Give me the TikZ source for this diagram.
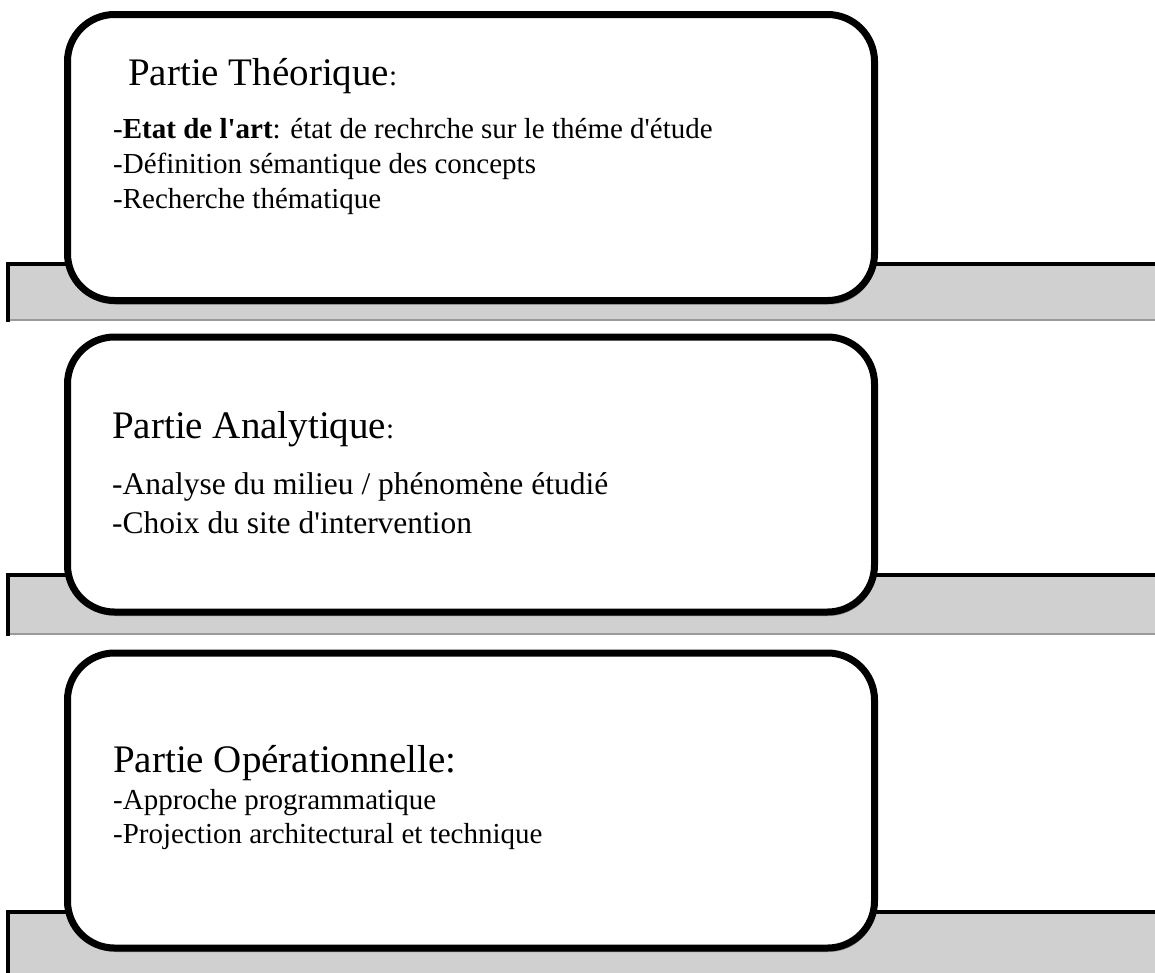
\documentclass[tikz,border=0pt]{standalone}
\usepackage{fontspec}
\setmainfont{Liberation Serif}
\usetikzlibrary{shadows}
\definecolor{bargray}{HTML}{D0D0D0}
\definecolor{baredge}{HTML}{9A9A9A}
\newcommand{\aq}{\textquotesingle}
\tikzset{
  barfill/.style={fill=bargray},
  barline/.style={draw=black, line width=4.5pt, line join=miter, line cap=rect},
  baredgeline/.style={draw=baredge, line width=1.5pt},
  part/.style={draw=black, line width=7pt, fill=white, rounded corners=47pt,
    minimum width=807pt, inner sep=0pt,
    drop shadow={shadow xshift=1.5pt, shadow yshift=-4pt, opacity=0.3, fill=black}},
  head/.style={anchor=base west, inner sep=0pt, font=\fontsize{39}{46}\selectfont},
  item/.style={anchor=base west, inner sep=0pt, font=\fontsize{29}{35}\selectfont},
  itemb/.style={anchor=base west, inner sep=0pt, font=\fontsize{31.5}{38}\selectfont},
}
\newcommand{\smallcolon}{{\fontsize{29}{35}\selectfont:}}
\begin{document}
\begin{tikzpicture}[x=1pt,y=-1pt]
\useasboundingbox (0,0) rectangle (1155,972);
% bars
\fill[barfill] (8,264) rectangle (1170,320);
\draw[baredgeline] (8,320) -- (1170,320);
\draw[barline] (1170,264) -- (8,264) -- (8,320);

\fill[barfill] (8,575) rectangle (1170,634);
\draw[baredgeline] (8,634) -- (1170,634);
\draw[barline] (1170,575) -- (8,575) -- (8,634);

\fill[barfill] (8,912) rectangle (1170,990);
\draw[barline] (1170,912) -- (8,912) -- (8,990);

% boxes
\node[part, minimum height=286pt] (b1) at (471,157.5) {};
\node[part, minimum height=275pt] (b2) at (471,474.5) {};
\node[part, minimum height=295pt] (b3) at (471,800.5) {};

% texts box 1
\node[head] (h1) at (128,85) {Partie Théorique\smallcolon};
\node[item] (t11) at (113,138) {-\textbf{Etat de l\aq art}: état de rechrche sur le théme d\aq étude};
\node[item] (t12) at (113,173) {-Définition sémantique des concepts};
\node[item] (t13) at (113,208) {-Recherche thématique};

% texts box 2
\node[head] (h2) at (112,438) {Partie Analytique\smallcolon};
\node[itemb] (t21) at (112,494) {-Analyse du milieu / phénomène étudié};
\node[itemb] (t22) at (112,533) {-Choix du site d\aq intervention};

% texts box 3
\node[head] (h3) at (113,772) {Partie Opérationnelle:};
\node[item] (t31) at (113,809) {-Approche programmatique};
\node[item] (t32) at (113,843) {-Projection architectural et technique};
\end{tikzpicture}
\end{document}
